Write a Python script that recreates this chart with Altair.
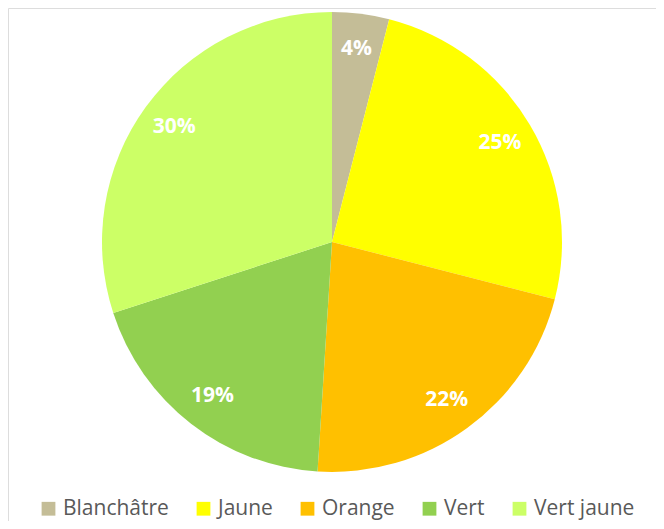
import altair as alt
import pandas as pd

categories = ["Blanchâtre", "Jaune", "Orange", "Vert", "Vert jaune"]
values = [4, 25, 22, 19, 30]
colors = ["#C4BD97", "#FFFF00", "#FFC000", "#92D050", "#CCFF66"]

df = pd.DataFrame({"cat": categories, "val": values, "order": list(range(len(categories)))})
df["label"] = df["val"].astype(str) + "%"

base = alt.Chart(df).encode(
    theta=alt.Theta("val:Q", stack=True),
    order=alt.Order("order:Q"),
    x=alt.value(324),
    y=alt.value(234),
)

pie = base.mark_arc(outerRadius=230, stroke=None).encode(
    color=alt.Color(
        "cat:N",
        scale=alt.Scale(domain=categories, range=colors),
        sort=categories,
        legend=alt.Legend(
            title=None,
            orient="none",
            legendX=30,
            legendY=490,
            direction="horizontal",
            symbolType="square",
            symbolSize=190,
            symbolStrokeWidth=0,
            labelFontSize=21,
            labelFont="Open Sans",
            labelColor="#595959",
            columnPadding=24,
            labelOffset=4,
        ),
    )
)

labels = base.mark_text(
    radius=195, fontSize=21, fontWeight="bold", font="Open Sans", color="white"
).encode(text="label:N")

chart = (
    (pie + labels)
    .properties(width=648, height=513, autosize=alt.AutoSizeParams(type="none"), padding=0)
    .configure_view(stroke=None)
    .configure(background="white")
)

chart.save("out.html", embed_options={"renderer": "svg", "actions": False})
